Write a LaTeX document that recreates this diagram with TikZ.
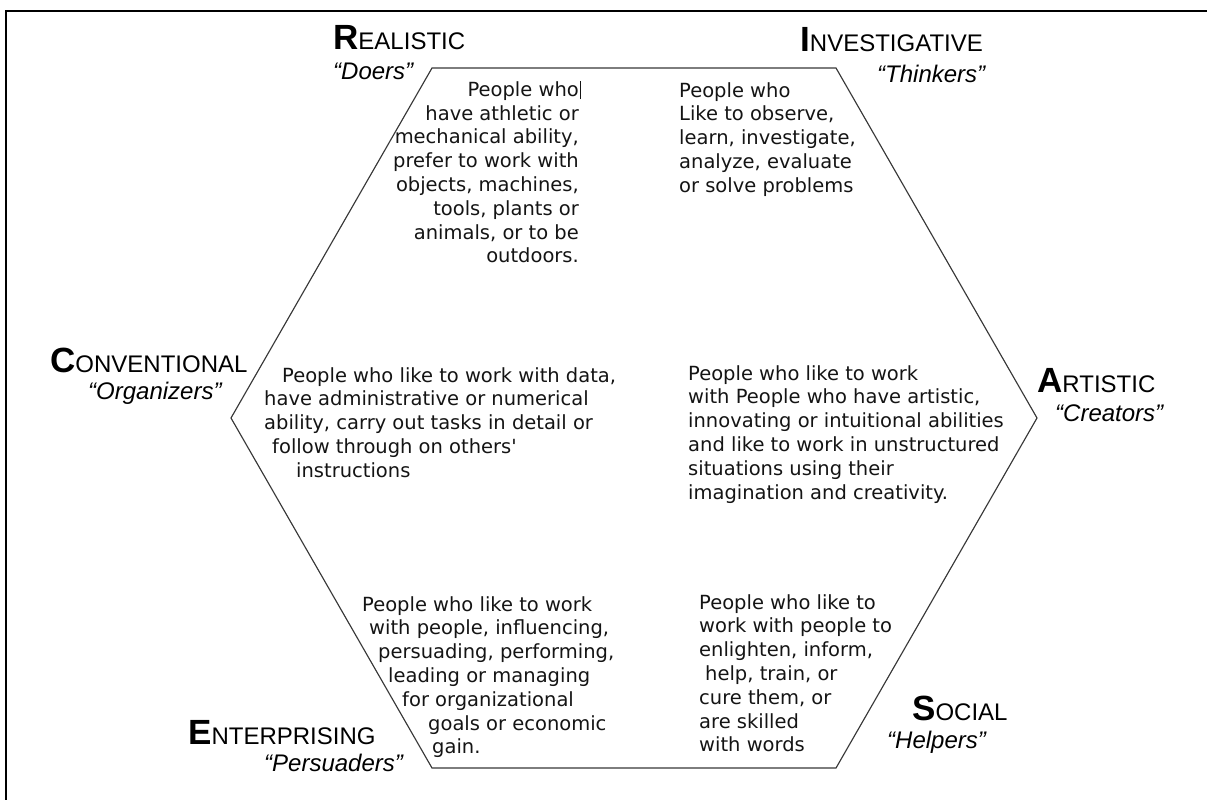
\documentclass[tikz,border=0pt]{standalone}
\usepackage{fontspec}
\setmainfont{DejaVu Sans}
\newfontfamily\headfont{Liberation Sans}
\newcommand\capL[1]{{\fontsize{35}{40}\selectfont\bfseries #1}}
\begin{document}
\begin{tikzpicture}[x=1pt,y=-1pt,
  body/.style={font=\fontsize{19.5}{23.8}\selectfont, inner sep=0pt, text=black!92},
  head/.style={font=\headfont\fontsize{24}{28}\selectfont, inner sep=0pt, anchor=base west},
  quote/.style={font=\headfont\itshape\fontsize{24}{28}\selectfont, inner sep=0pt, anchor=base west},
  hexline/.style={draw=black!78, line width=1.15pt, line join=miter},
  frame/.style={draw=black, line width=2.5pt}]
\useasboundingbox (0,0) rectangle (1207,800);
% frame
\coordinate (f1) at (6,801);
\coordinate (f2) at (6,11);
\coordinate (f3) at (1208,11);
\draw[frame] (f1) -- (f2) -- (f3);
% hexagon
\coordinate (h1) at (432,68);
\coordinate (h2) at (836,68);
\coordinate (h3) at (1037,418);
\coordinate (h4) at (836,768);
\coordinate (h5) at (432,768);
\coordinate (h6) at (231,418);
\draw[hexline] (h1) -- (h2) -- (h3) -- (h4) -- (h5) -- (h6) -- cycle;
% headings
\node[head] (rH) at (333,50) {\capL{R}EALISTIC};
\node[quote] (rQ) at (333,80) {“Doers”};
\node[head] (iH) at (800,52) {\capL{I}NVESTIGATIVE};
\node[quote] (iQ) at (877,82) {“Thinkers”};
\node[head] (cH) at (50,372) {\capL{C}ONVENTIONAL};
\node[quote] (cQ) at (88,399) {“Organizers”};
\node[head] (aH) at (1037,392) {\capL{A}RTISTIC};
\node[quote] (aQ) at (1055,421) {“Creators”};
\node[head] (eH) at (188,744) {\capL{E}NTERPRISING};
\node[quote] (eQ) at (264,771) {“Persuaders”};
\node[head] (sH) at (912,720) {\capL{S}OCIAL};
\node[quote] (sQ) at (887,748) {“Helpers”};
% body texts
\node[body, anchor=north east, align=right] (rT) at (579,81)
  {People who\rlap{\hspace{1pt}\rule[-3pt]{0.7pt}{18pt}}\\ have athletic or\\ mechanical ability,\\ prefer to work with\\ objects, machines,\\ tools, plants or\\ animals, or to be\\ outdoors.};
\node[body, anchor=north west, align=left] (iT) at (679,82)
  {People who\\ Like to observe,\\ learn, investigate,\\ analyze, evaluate\\ or solve problems};
\node[body, anchor=north west, align=left] (cT) at (264,367)
  {\hspace*{18pt}People who like to work with data,\\ have administrative or numerical\\ ability, carry out tasks in detail or\\ \hspace*{8pt}follow through on others\textquotesingle\\ \hspace*{32pt}instructions};
\node[body, anchor=north west, align=left] (aT) at (688,365)
  {People who like to work\\ with People who have artistic,\\ innovating or intuitional abilities\\ and like to work in unstructured\\ situations using their\\ imagination and creativity.};
\node[body, anchor=north west, align=left] (eT) at (362,596)
  {People who like to work\\ \hspace*{7pt}with people, influencing,\\ \hspace*{16pt}persuading, performing,\\ \hspace*{26pt}leading or managing\\ \hspace*{40pt}for organizational\\ \hspace*{66pt}goals or economic\\ \hspace*{70pt}gain.};
\node[body, anchor=north west, align=left] (sT) at (699,594)
  {People who like to\\ work with people to\\ enlighten, inform,\\ \hspace*{6pt}help, train, or\\ cure them, or\\ are skilled\\ with words};
\end{tikzpicture}
\end{document}
